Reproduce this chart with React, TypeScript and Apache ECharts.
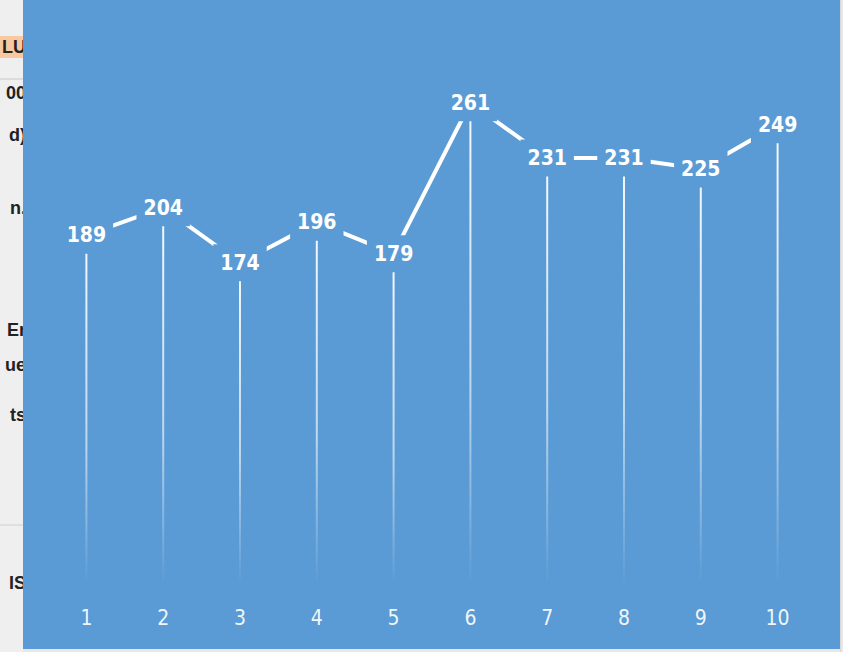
import React, { useEffect, useRef } from "react";
import * as echarts from "echarts";

const categories = ["1", "2", "3", "4", "5", "6", "7", "8", "9", "10"];
const values = [189, 204, 174, 196, 179, 261, 231, 231, 225, 249];
const sideTexts = ["LU", "00", "d)", "n.", "Er", "ue", "ts", "IS"];
const sideTextY = [47, 93, 135, 208, 330, 365, 415, 583];

const BLUE = "#5B9BD5";
const FONT = "'Liberation Sans Narrow', 'DejaVu Sans Condensed', 'Roboto Condensed', sans-serif";

export default function App() {
  const ref = useRef<HTMLDivElement>(null);
  useEffect(() => {
    if (!ref.current) return;
    const chart = echarts.init(ref.current, null, { renderer: "svg" });
    const graphics: any[] = [
      { type: "rect", z: -10, shape: { x: 0, y: 0, width: 23, height: 652 }, style: { fill: "#efefef" } },
      { type: "rect", z: -9, shape: { x: 0, y: 36, width: 23, height: 22 }, style: { fill: "#f8c9a0" } },
      { type: "line", z: -9, shape: { x1: 0, y1: 79, x2: 23, y2: 79 }, style: { stroke: "#c8c8c8", lineWidth: 1 } },
      { type: "line", z: -9, shape: { x1: 0, y1: 525, x2: 23, y2: 525 }, style: { stroke: "#d0d0d0", lineWidth: 1 } },
      ...sideTexts.map((t, i) => ({
        type: "text",
        z: -8,
        x: 26,
        y: sideTextY[i],
        style: {
          text: t,
          fill: "#222",
          font: "bold 18px 'Liberation Sans', Arial, sans-serif",
          textAlign: "right",
          textVerticalAlign: "middle",
        },
      })),
      { type: "rect", z: -5, shape: { x: 23, y: 0, width: 817, height: 649 }, style: { fill: BLUE } },
      { type: "line", z: -5, shape: { x1: 840.5, y1: 0, x2: 840.5, y2: 652 }, style: { stroke: "#d8d8d8", lineWidth: 1 } },
    ];
    chart.setOption({
      animation: false,
      backgroundColor: "#e8e8e8",
      graphic: graphics,
      grid: { left: 48, width: 768, top: 31, height: 552 },
      xAxis: {
        type: "category",
        data: categories,
        boundaryGap: true,
        axisLine: { show: false },
        axisTick: { show: false },
        axisLabel: {
          color: "rgba(255,255,255,0.92)",
          fontFamily: FONT,
          fontSize: 21,
          margin: 24,
        },
      },
      yAxis: {
        type: "value",
        min: 0,
        max: 300,
        show: false,
        splitLine: { show: false },
      },
      series: [
        {
          type: "bar",
          data: values,
          barWidth: 2,
          z: 1,
          itemStyle: {
            color: {
              type: "linear",
              x: 0,
              y: 0,
              x2: 0,
              y2: 1,
              colorStops: [
                { offset: 0, color: "rgba(255,255,255,0.95)" },
                { offset: 0.6, color: "rgba(255,255,255,0.6)" },
                { offset: 1, color: "rgba(255,255,255,0)" },
              ],
            },
          },
        },
        {
          type: "line",
          data: values,
          z: 3,
          symbol: "circle",
          symbolSize: 1,
          itemStyle: { color: "rgba(255,255,255,0)" },
          lineStyle: { color: "#ffffff", width: 4 },
          label: {
            show: true,
            position: "inside",
            color: "#ffffff",
            fontFamily: FONT,
            fontWeight: "bold",
            fontSize: 21,
            backgroundColor: BLUE,
            padding: [8, 7],
          },
        },
      ],
    });
    return () => chart.dispose();
  }, []);
  return <div ref={ref} style={{ width: 843, height: 652, position: "absolute", left: 0, top: 0 }} />;
}
